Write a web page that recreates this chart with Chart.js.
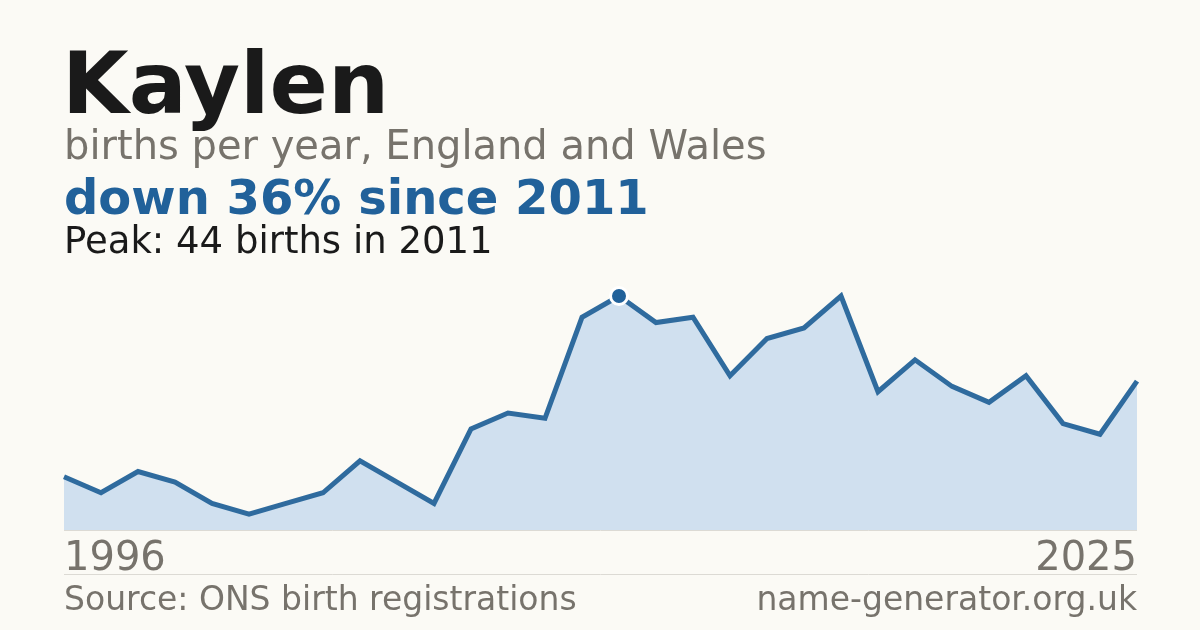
<!DOCTYPE html>
<html>
<head>
<meta charset="utf-8">
<script src="https://cdn.jsdelivr.net/npm/chart.js@4.4.1/dist/chart.umd.min.js"></script>
<style>
  html, body { margin: 0; padding: 0; background: #fbfaf5; }
  #wrap { position: relative; width: 1200px; height: 630px; }
  canvas { display: block; }
</style>
</head>
<body>
<div id="wrap"><canvas id="chart" width="1200" height="630"></canvas></div>
<script>
// births per year for "Kaylen"
const years = [
  '1996', '1997', '1998', '1999', '2000', '2001', '2002', '2003', '2004', '2005',
  '2006', '2007', '2008', '2009', '2010', '2011', '2012', '2013', '2014', '2015',
  '2016', '2017', '2018', '2019', '2020', '2021', '2022', '2023', '2024', '2025'
];
const births = [
  10, 7, 11, 9, 5, 3, 5, 7, 13, 9,
  5, 19, 22, 21, 40, 44, 39, 40, 29, 36,
  38, 44, 26, 32, 27, 24, 29, 20, 18, 28
];

const peakValue = Math.max(...births);
const peakIndex = births.indexOf(peakValue);
const lastValue = births[births.length - 1];
const change = Math.round((1 - lastValue / peakValue) * 100);

const FONT = '"DejaVu Sans", sans-serif';

// headings, axis end labels and footer drawn on the canvas
const textPlugin = {
  id: 'texts',
  beforeDraw(chart) {
    const ctx = chart.ctx;
    ctx.save();
    ctx.fillStyle = '#fbfaf5';
    ctx.fillRect(0, 0, chart.width, chart.height);
    ctx.restore();
  },
  afterDraw(chart) {
    const ctx = chart.ctx;
    const x = chart.scales.x;
    const area = chart.chartArea;
    ctx.save();
    ctx.textBaseline = 'alphabetic';

    ctx.fillStyle = '#1a1a1a';
    ctx.font = 'bold 86px ' + FONT;
    ctx.fillText('Kaylen', 62, 113);

    ctx.fillStyle = '#77736c';
    ctx.font = '40px ' + FONT;
    ctx.fillText('births per year, England and Wales', 64, 159);

    ctx.fillStyle = '#21619a';
    ctx.font = 'bold 48px ' + FONT;
    ctx.fillText('down ' + change + '% since ' + years[peakIndex], 64, 214);

    ctx.fillStyle = '#1a1a1a';
    ctx.font = '37px ' + FONT;
    ctx.fillText('Peak: ' + peakValue + ' births in ' + years[peakIndex], 64, 253);

    // baseline and separator
    ctx.strokeStyle = '#dcdad4';
    ctx.lineWidth = 1;
    ctx.beginPath();
    ctx.moveTo(area.left, area.bottom + 0.5);
    ctx.lineTo(area.right, area.bottom + 0.5);
    ctx.moveTo(area.left, 574.5);
    ctx.lineTo(area.right, 574.5);
    ctx.stroke();

    ctx.fillStyle = '#77736c';
    ctx.font = '40px ' + FONT;
    ctx.textAlign = 'left';
    ctx.fillText(years[0], x.getPixelForValue(0), 570);
    ctx.textAlign = 'right';
    ctx.fillText(years[years.length - 1], x.getPixelForValue(years.length - 1), 570);

    ctx.font = '33px ' + FONT;
    ctx.textAlign = 'left';
    ctx.fillText('Source: ONS birth registrations', 64, 610);
    ctx.textAlign = 'right';
    ctx.fillText('name-generator.org.uk', area.right, 610);
    ctx.restore();
  }
};

new Chart(document.getElementById('chart'), {
  type: 'line',
  data: {
    labels: years,
    datasets: [
      {
        data: births,
        borderColor: '#2f6b9e',
        borderWidth: 5,
        backgroundColor: '#d0e0ef',
        fill: 'origin',
        tension: 0,
        clip: false,
        pointRadius: (c) => (c.dataIndex === peakIndex ? 8.5 : 0),
        pointBackgroundColor: '#21619a',
        pointBorderColor: '#ffffff',
        pointBorderWidth: 3,
        pointHoverRadius: 0,
      },
    ],
  },
  options: {
    responsive: false,
    animation: false,
    devicePixelRatio: 1,
    layout: { padding: { left: 64, right: 63, top: 296, bottom: 100 } },
    plugins: {
      legend: { display: false },
      tooltip: { enabled: false },
    },
    scales: {
      x: { display: false, offset: false },
      y: { display: false, min: 0, max: peakValue },
    },
  },
  plugins: [textPlugin],
});
</script>
</body>
</html>
